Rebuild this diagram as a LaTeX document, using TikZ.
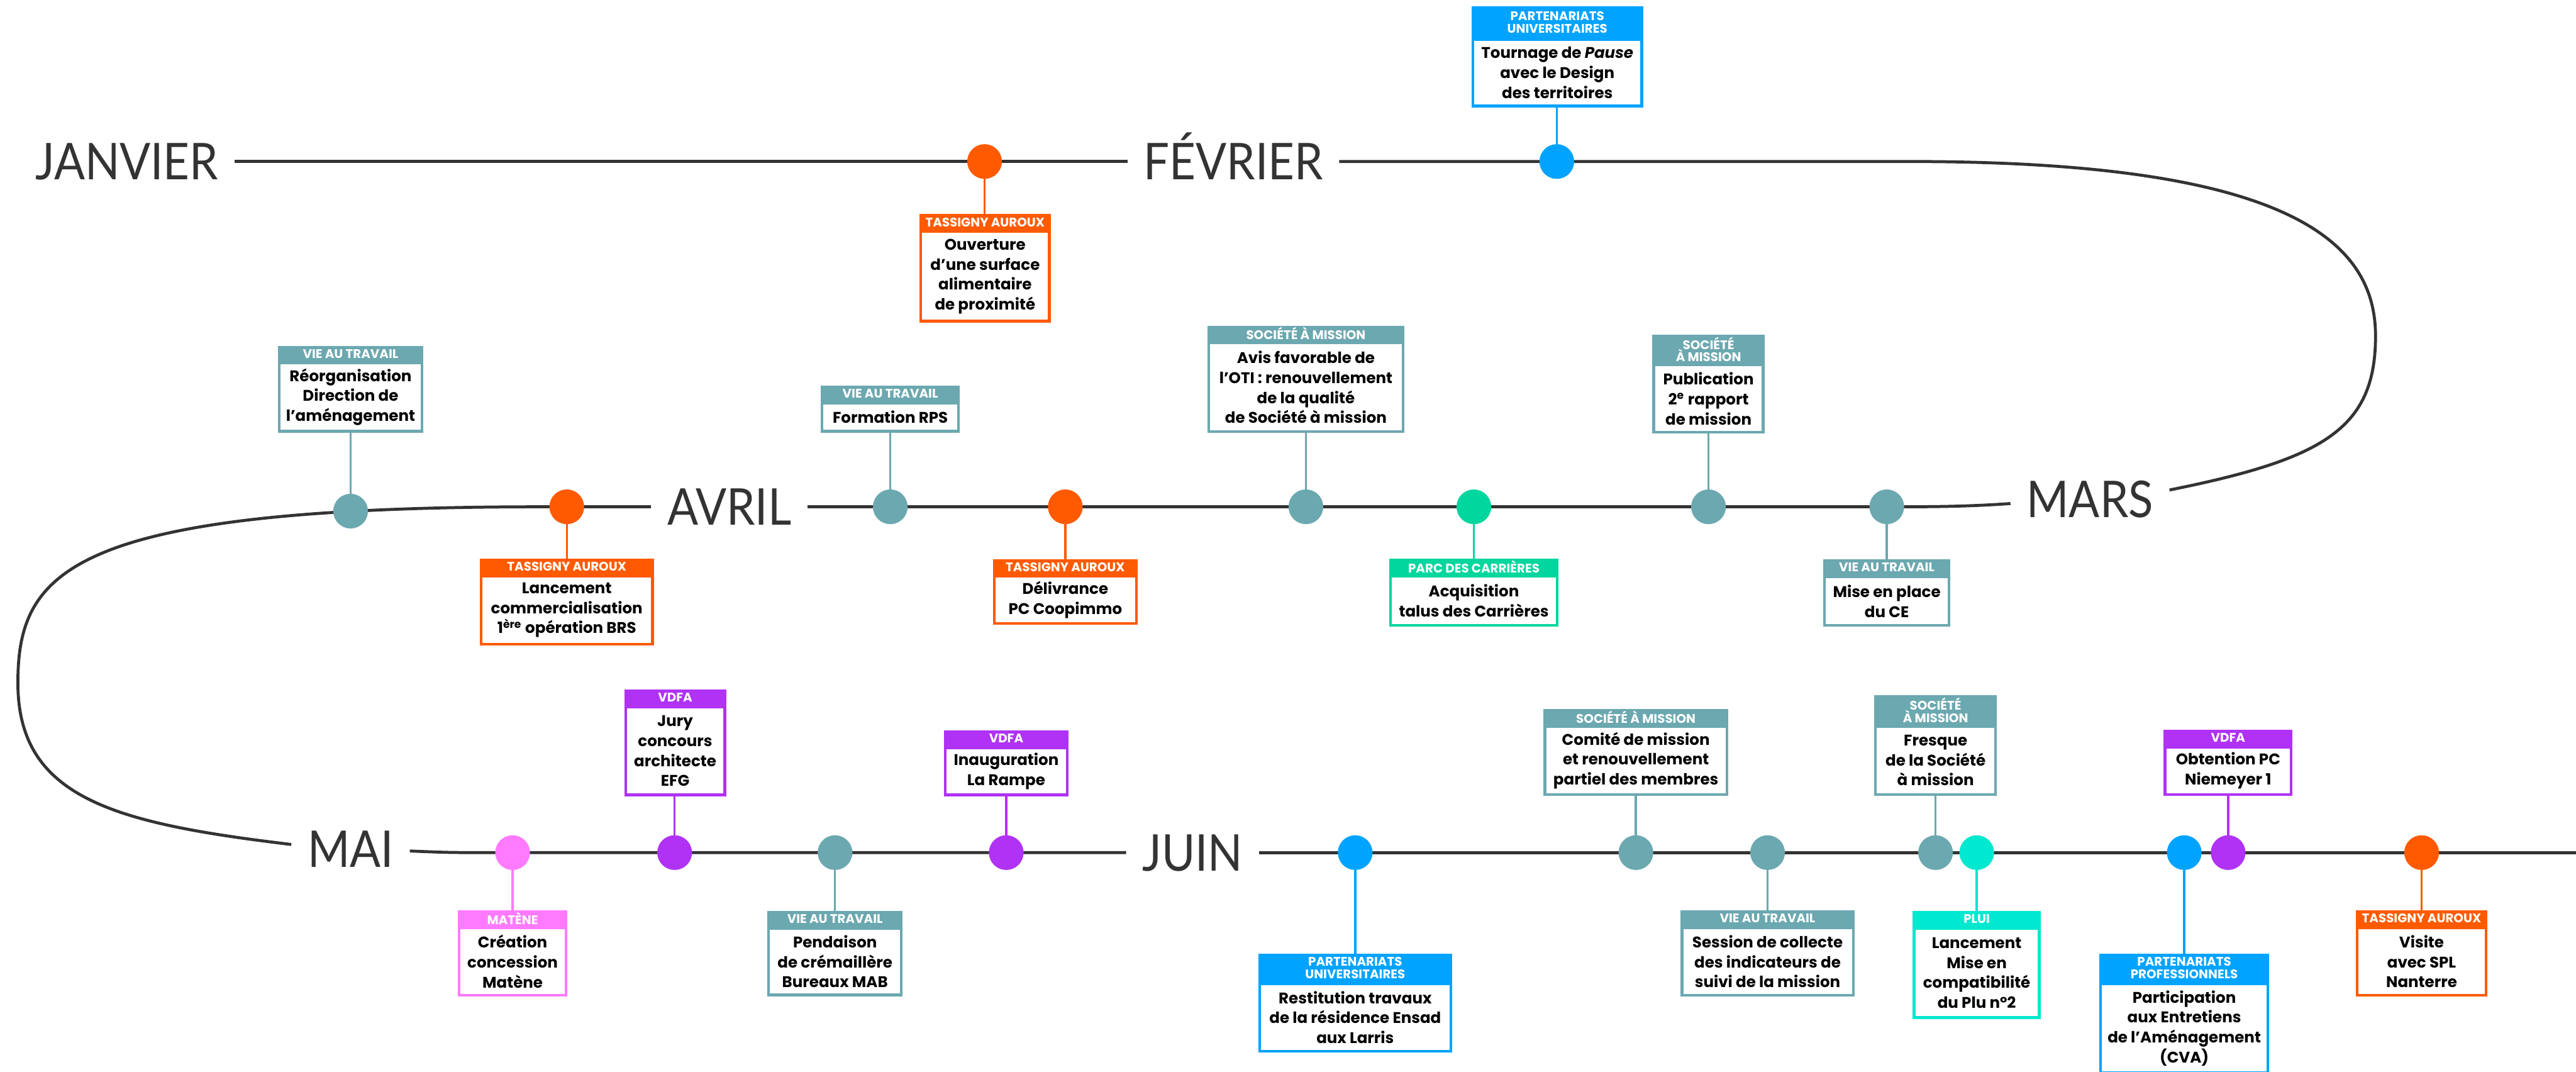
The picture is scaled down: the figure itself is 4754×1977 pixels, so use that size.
\documentclass[tikz,border=0pt]{standalone}
\usepackage{fontspec}
\setmainfont{Poppins}
\newfontfamily\monthfont[FakeStretch=0.9]{Lato}
\usetikzlibrary{calc}

\definecolor{linec}{HTML}{333333}
\definecolor{cTeal}{HTML}{6BA8B0}
\definecolor{cOrange}{HTML}{FF5A00}
\definecolor{cBlue}{HTML}{00A3FF}
\definecolor{cGreen}{HTML}{00D69E}
\definecolor{cCyan}{HTML}{00E8D0}
\definecolor{cPurple}{HTML}{B032F5}
\definecolor{cPink}{HTML}{FF7AFF}

\tikzset{
  timeline/.style={draw=linec, line width=0.055cm},
  month/.style={font=\monthfont\fontsize{26.6pt}{26.6pt}\selectfont, text=linec,
    inner xsep=0.3cm, inner ysep=0pt, text height=0.67cm, text depth=0pt, outer sep=0pt},
  evdot/.style={circle, fill=#1, minimum size=0.64cm, inner sep=0pt, outer sep=0pt},
  conn/.style={draw=#1, line width=0.04cm},
  evhead/.style={fill=#1, text=white, inner sep=0pt, outer sep=0pt, align=center,
    font=\bfseries\fontsize{6.55pt}{6.45pt}\selectfont},
  evbody/.style={draw=#1, line width=0.05cm, fill=white, text=black, inner sep=0pt, align=center,
    font=\bfseries\fontsize{8.1pt}{10.45pt}\selectfont},
}

% event box: name, colour, x centre, width, top, header height, body height, header, body
\newcommand\evt[9]{%
  \node[evhead=#2, minimum width=#4*0.01cm, minimum height=#6*0.01cm, anchor=north]
    (#1-h) at (#3,#5) {#8};
  \node[evbody=#2, minimum width=(#4-5)*0.01cm, minimum height=(#7-5)*0.01cm, anchor=north]
    (#1) at (#1-h.south) {#9};
}
% connector from a dot up to the box above it, or down to the box below it
\newcommand\linkup[2]{\draw[conn=#2] (d-#1) -- (d-#1.center |- #1.south);}
\newcommand\linkdown[2]{\draw[conn=#2] (d-#1) -- (d-#1.center |- #1-h.north);}

\begin{document}
\begin{tikzpicture}[x=0.01cm, y=-0.01cm]
\useasboundingbox (0,0) rectangle (4754,1977);
\clip (0,0) rectangle (4754,1977);
\fill[white] (0,0) rectangle (4754,1977);

% month labels
\node[month] (janvier) at (234,298) {JANVIER};
\node[month] (fevrier) at (2276,298) {FÉVRIER};
\node[month] (mars) at (3857,921) {MARS};
\node[month] (avril) at (1346,935) {AVRIL};
\node[month] (mai) at (647,1567) {MAI};
\node[month] (juin) at (2201,1573) {JUIN};
\coordinate (rowend) at (4780,1573);

% the winding timeline
\draw[timeline] (janvier.east) -- (fevrier.west);
\draw[timeline] (fevrier.east) -- (3527,298)
  .. controls (4232,298) and (4384,449) .. (4384,620)
  .. controls (4384,792) and (4287,847) .. ($(mars.east)+(0,-17)$);
\draw[timeline] ($(mars.west)+(0,8)$) .. controls (3640,934) and (3580,935) .. (3500,935)
  -- (avril.east);
\draw[timeline] (avril.west) -- (1000,935)
  .. controls (129,935) and (33,1053) .. (33,1260)
  .. controls (33,1474) and (214,1519) .. ($(mai.west)+(0,-9)$);
\draw[timeline] ($(mai.east)+(0,3)$) .. controls (830,1573) .. (920,1573) -- (juin.west);
\draw[timeline] (juin.east) -- (rowend);

% dots
\node[evdot=cOrange] (d-ouverture) at (1817,298) {};
\node[evdot=cBlue]   (d-tournage)  at (2873,298) {};

\node[evdot=cTeal]   (d-reorg)    at (647,943) {};
\node[evdot=cOrange] (d-brs)      at (1046,935) {};
\node[evdot=cTeal]   (d-rps)      at (1643,935) {};
\node[evdot=cOrange] (d-coopimmo) at (1966,935) {};
\node[evdot=cTeal]   (d-oti)      at (2410,935) {};
\node[evdot=cGreen]  (d-talus)    at (2720,935) {};
\node[evdot=cTeal]   (d-rapport)  at (3153,935) {};
\node[evdot=cTeal]   (d-ce)       at (3482,935) {};

\node[evdot=cPink]   (d-matene)    at (946,1573) {};
\node[evdot=cPurple] (d-jury)      at (1245,1573) {};
\node[evdot=cTeal]   (d-mab)       at (1541,1573) {};
\node[evdot=cPurple] (d-rampe)     at (1857,1573) {};
\node[evdot=cBlue]   (d-ensad)     at (2501,1573) {};
\node[evdot=cTeal]   (d-comite)    at (3019,1573) {};
\node[evdot=cTeal]   (d-collecte)  at (3262,1573) {};
\node[evdot=cTeal]   (d-fresque)   at (3572,1573) {};
\node[evdot=cCyan]   (d-plu)       at (3648,1573) {};
\node[evdot=cBlue]   (d-cva)       at (4031,1573) {};
\node[evdot=cPurple] (d-obtention) at (4112,1573) {};
\node[evdot=cOrange] (d-visite)    at (4469,1573) {};

% event boxes
\evt{ouverture}{cOrange}{1818}{242}{395}{30}{170}{TASSIGNY AUROUX}{Ouverture\\d’une surface\\alimentaire\\de proximité}
\evt{tournage}{cBlue}{2874}{317}{12}{58}{128}{PARTENARIATS\\UNIVERSITAIRES}{Tournage de \textit{Pause}\\avec le Design\\des territoires}

\evt{reorg}{cTeal}{647}{268}{638}{29}{131}{VIE AU TRAVAIL}{Réorganisation\\Direction de\\l’aménagement}
\evt{brs}{cOrange}{1046}{321}{1031}{29}{131}{TASSIGNY AUROUX}{Lancement\\commercialisation\\1\textsuperscript{ère} opération BRS}
\evt{rps}{cTeal}{1643}{257}{712}{29}{57}{VIE AU TRAVAIL}{Formation RPS}
\evt{coopimmo}{cOrange}{1966}{267}{1032}{29}{92}{TASSIGNY AUROUX}{Délivrance\\PC Coopimmo}
\evt{oti}{cTeal}{2410}{363}{601}{29}{169}{SOCIÉTÉ À MISSION}{Avis favorable de\\l’OTI~: renouvellement\\de la qualité\\de Société à mission}
\evt{talus}{cGreen}{2720}{312}{1031}{30}{95}{PARC DES CARRIÈRES}{Acquisition\\talus des Carrières}
\evt{rapport}{cTeal}{3153}{207}{618}{53}{129}{SOCIÉTÉ\\À MISSION}{Publication\\2\textsuperscript{e} rapport\\de mission}
\evt{ce}{cTeal}{3482}{235}{1032}{30}{94}{VIE AU TRAVAIL}{Mise en place\\du CE}

\evt{matene}{cPink}{946}{202}{1680}{29}{130}{MATÈNE}{Création\\concession\\Matène}
\evt{jury}{cPurple}{1246}{188}{1272}{30}{167}{VDFA}{Jury\\concours\\architecte\\EFG}
\evt{mab}{cTeal}{1541}{250}{1681}{29}{128}{VIE AU TRAVAIL}{Pendaison\\de crémaillère\\Bureaux MAB}
\evt{rampe}{cPurple}{1857}{230}{1347}{30}{92}{VDFA}{Inauguration\\La Rampe}
\evt{ensad}{cBlue}{2501}{358}{1759}{53}{130}{PARTENARIATS\\UNIVERSITAIRES}{Restitution travaux\\de la résidence Ensad\\aux Larris}
\evt{comite}{cTeal}{3019}{341}{1308}{30}{130}{SOCIÉTÉ À MISSION}{Comité de mission\\et renouvellement\\partiel des membres}
\evt{collecte}{cTeal}{3262}{321}{1680}{29}{130}{VIE AU TRAVAIL}{Session de collecte\\des indicateurs de\\suivi de la mission}
\evt{fresque}{cTeal}{3572}{227}{1283}{55}{130}{SOCIÉTÉ\\À MISSION}{Fresque\\de la Société\\à mission}
\evt{plu}{cCyan}{3648}{236}{1681}{29}{170}{PLUI}{Lancement\\Mise en\\compatibilité\\du Plu n°2}
\evt{cva}{cBlue}{4031}{314}{1759}{53}{170}{PARTENARIATS\\PROFESSIONNELS}{Participation\\aux Entretiens\\de l’Aménagement\\(CVA)}
\evt{obtention}{cPurple}{4112}{238}{1346}{30}{92}{VDFA}{Obtention PC\\Niemeyer 1}
\evt{visite}{cOrange}{4469}{243}{1680}{29}{130}{TASSIGNY AUROUX}{Visite\\avec SPL\\Nanterre}

% connectors from each dot to its box
\linkdown{ouverture}{cOrange}
\linkup{tournage}{cBlue}
\linkup{reorg}{cTeal}
\linkdown{brs}{cOrange}
\linkup{rps}{cTeal}
\linkdown{coopimmo}{cOrange}
\linkup{oti}{cTeal}
\linkdown{talus}{cGreen}
\linkup{rapport}{cTeal}
\linkdown{ce}{cTeal}
\linkdown{matene}{cPink}
\linkup{jury}{cPurple}
\linkdown{mab}{cTeal}
\linkup{rampe}{cPurple}
\linkdown{ensad}{cBlue}
\linkup{comite}{cTeal}
\linkdown{collecte}{cTeal}
\linkup{fresque}{cTeal}
\linkdown{plu}{cCyan}
\linkdown{cva}{cBlue}
\linkup{obtention}{cPurple}
\linkdown{visite}{cOrange}
\end{tikzpicture}
\end{document}
